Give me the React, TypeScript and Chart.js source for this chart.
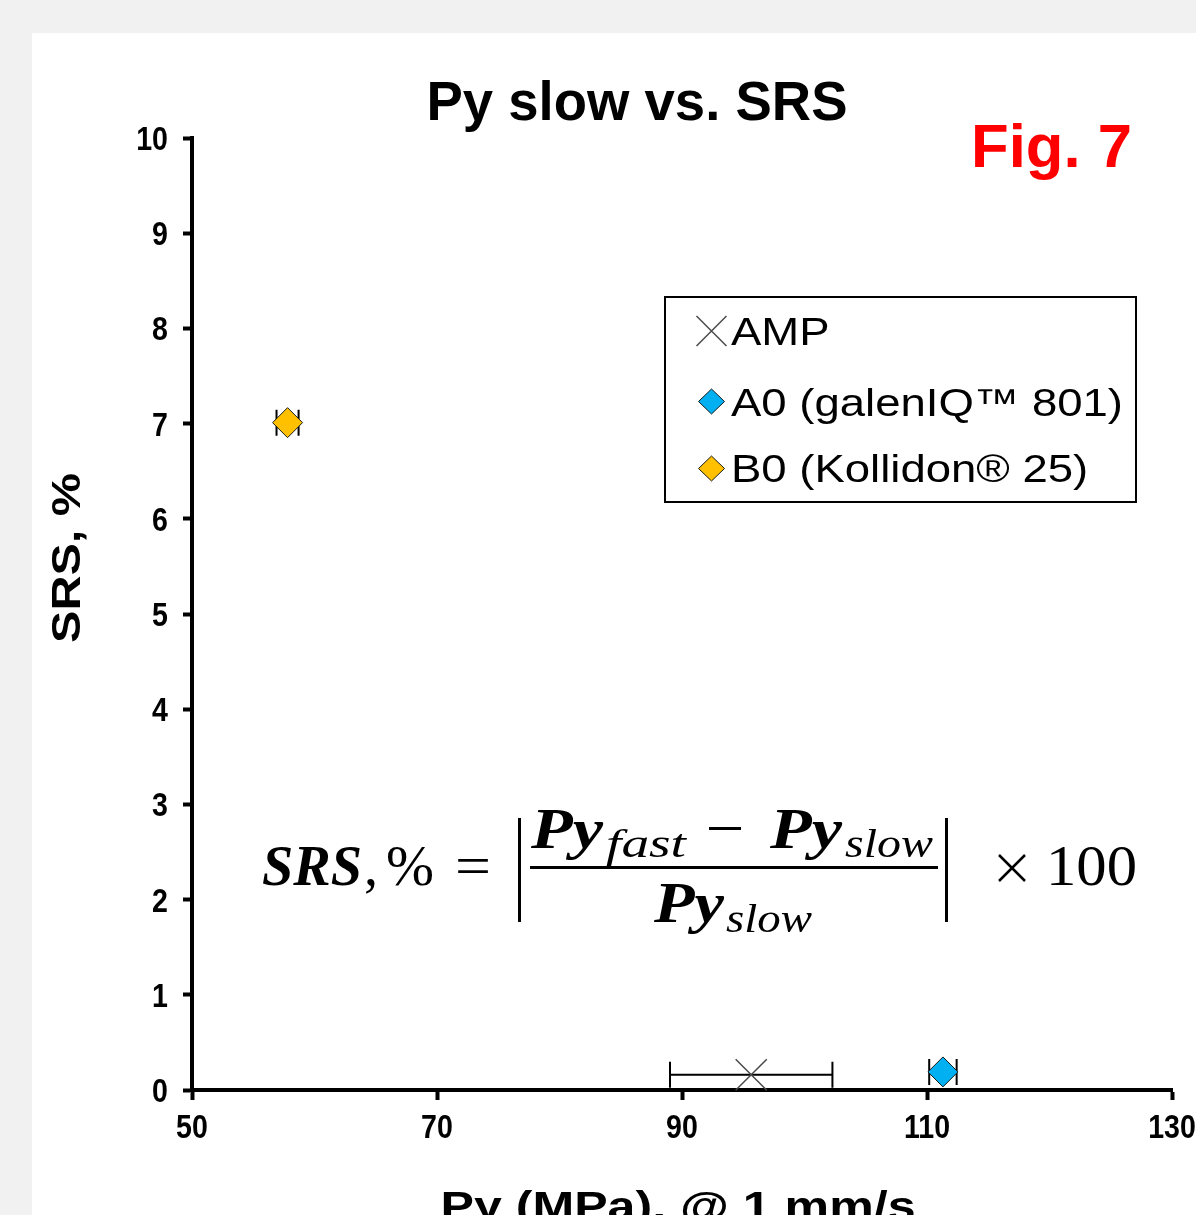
import React, { useEffect, useRef } from 'react';
import { Chart, registerables } from 'chart.js';

Chart.register(...registerables);

// ---------- data ----------
const chartTitle = 'Py slow vs. SRS';
const figLabel = 'Fig. 7';
const xAxisTitle = 'Py (MPa), @ 1 mm/s';
const yAxisTitle = 'SRS, %';
const seriesNames = ['AMP', 'A0 (galenIQ™ 801)', 'B0 (Kollidon® 25)'];
const pySlow = [95.65, 111.3, 57.8];
const srsPercent = [0.16, 0.19, 7.01];
const pyError = [6.63, 1.12, 0.9];
const xTicks = [50, 70, 90, 110, 130];
const yTicks = [0, 1, 2, 3, 4, 5, 6, 7, 8, 9, 10];

// ---------- styles ----------
const CANVAS_W = 1300;
const CANVAS_H = 1300;
const OFF_X = 32;
const OFF_Y = 33;
const SANS = "'Liberation Sans', Arial, sans-serif";
const SERIF = "'Liberation Serif', 'Times New Roman', serif";
const TICK_FONT = `bold 34px ${SANS}`;
const TICK_SCALE = 0.84;

const seriesStyles = [
  { pointStyle: 'crossRot', radius: 22, bg: 'rgba(0,0,0,0)', border: '#4a4a4a', bw: 1.5 },
  { pointStyle: 'rectRot', radius: 15, bg: '#00B0F0', border: '#1a1a1a', bw: 1 },
  { pointStyle: 'rectRot', radius: 15, bg: '#FFC000', border: '#1a1a1a', bw: 1 },
];

// page coords -> canvas coords
const cx = (v: number) => v - OFF_X;
const cy = (v: number) => v - OFF_Y;

function drawFitted(
  ctx: CanvasRenderingContext2D,
  text: string,
  x: number,
  y: number,
  font: string,
  color: string,
  targetWidth?: number,
  align: 'left' | 'center' | 'right' = 'left',
  scaleX?: number
) {
  ctx.save();
  ctx.font = font;
  ctx.fillStyle = color;
  ctx.textBaseline = 'alphabetic';
  const w = ctx.measureText(text).width;
  const sx = scaleX ?? (targetWidth ? targetWidth / w : 1);
  ctx.translate(x, y);
  ctx.scale(sx, 1);
  ctx.textAlign = align;
  ctx.fillText(text, 0, 0);
  ctx.restore();
}

const errorBarPlugin = {
  id: 'errorBars',
  beforeDatasetsDraw(chart: any) {
    const { ctx, scales } = chart;
    const x = scales.x;
    const y = scales.y;
    ctx.save();
    ctx.strokeStyle = '#000';
    ctx.lineWidth = 2;
    pySlow.forEach((v, i) => {
      const xl = x.getPixelForValue(v - pyError[i]);
      const xr = x.getPixelForValue(v + pyError[i]);
      const yp = y.getPixelForValue(srsPercent[i]);
      const cap = 13;
      ctx.beginPath();
      ctx.moveTo(xl, yp);
      ctx.lineTo(xr, yp);
      ctx.moveTo(xl, yp - cap);
      ctx.lineTo(xl, yp + cap);
      ctx.moveTo(xr, yp - cap);
      ctx.lineTo(xr, yp + cap);
      ctx.stroke();
    });
    ctx.restore();
  },
};

const decorPlugin = {
  id: 'decor',
  afterDraw(chart: any) {
    const ctx: CanvasRenderingContext2D = chart.ctx;
    const xs = chart.scales.x;
    const ys = chart.scales.y;

    // tick labels (condensed bold, from the scales)
    yTicks.forEach((v) => {
      const p = ys.getPixelForValue(v);
      drawFitted(ctx, String(v), cx(168), p + 12, TICK_FONT, '#000', undefined, 'right', TICK_SCALE);
    });
    xTicks.forEach((v) => {
      const p = xs.getPixelForValue(v);
      drawFitted(ctx, String(v), p, cy(1138), TICK_FONT, '#000', undefined, 'center', TICK_SCALE);
    });

    // title
    drawFitted(ctx, chartTitle, cx(637), cy(120), `bold 56px ${SANS}`, '#000', 421, 'center');
    // Fig. 7
    drawFitted(ctx, figLabel, cx(971), cy(167), `bold 62px ${SANS}`, '#FF0000', 161);

    // y axis title (rotated)
    ctx.save();
    ctx.translate(cx(80), cy(558));
    ctx.rotate(-Math.PI / 2);
    drawFitted(ctx, yAxisTitle, 0, 0, `bold 40px ${SANS}`, '#000', 170, 'center');
    ctx.restore();

    // x axis title
    drawFitted(ctx, xAxisTitle, cx(678), cy(1220), `bold 40px ${SANS}`, '#000', 475, 'center');

    // legend box
    ctx.save();
    ctx.strokeStyle = '#000';
    ctx.lineWidth = 2;
    ctx.strokeRect(cx(665), cy(297), 471, 205);
    ctx.restore();

    const rowCenters = [331, 401.5, 468.5];
    const rowBaselines = [344.5, 416, 482];
    ctx.save();
    ctx.font = `39px ${SANS}`;
    const longest = Math.max(...seriesNames.map((s) => ctx.measureText(s).width));
    ctx.restore();
    const legendScale = 392 / longest;
    seriesNames.forEach((name, i) => {
      const st = seriesStyles[i];
      const mx = cx(711.5);
      const my = cy(rowCenters[i]);
      ctx.save();
      if (st.pointStyle === 'crossRot') {
        ctx.strokeStyle = st.border;
        ctx.lineWidth = 1.5;
        ctx.beginPath();
        ctx.moveTo(mx - 15, my - 15);
        ctx.lineTo(mx + 15, my + 15);
        ctx.moveTo(mx + 15, my - 15);
        ctx.lineTo(mx - 15, my + 15);
        ctx.stroke();
      } else {
        ctx.fillStyle = st.bg;
        ctx.strokeStyle = st.border;
        ctx.lineWidth = 1;
        ctx.beginPath();
        ctx.moveTo(mx, my - 12.5);
        ctx.lineTo(mx + 13, my);
        ctx.lineTo(mx, my + 12.5);
        ctx.lineTo(mx - 13, my);
        ctx.closePath();
        ctx.fill();
        ctx.stroke();
      }
      ctx.restore();
      ctx.save();
      ctx.font = `39px ${SANS}`;
      ctx.fillStyle = '#000';
      ctx.translate(cx(731), cy(rowBaselines[i]));
      ctx.scale(legendScale, 1);
      ctx.fillText(name, 0, 0);
      ctx.restore();
    });

    // formula
    const bi = `bold italic 56px ${SERIF}`;
    const rg = `56px ${SERIF}`;
    const sub = `italic 40px ${SERIF}`;
    drawFitted(ctx, 'SRS', cx(262), cy(885), bi, '#000', 100);
    drawFitted(ctx, ',', cx(364), cy(885), rg, '#000');
    drawFitted(ctx, '%', cx(386), cy(885), `58px ${SERIF}`, '#000', 48);
    drawFitted(ctx, '=', cx(455), cy(885), rg, '#000', 36);
    // numerator
    drawFitted(ctx, 'Py', cx(531), cy(848), bi, '#000', 72);
    drawFitted(ctx, 'fast', cx(606), cy(857), sub, '#000', 80);
    drawFitted(ctx, 'Py', cx(770), cy(848), bi, '#000', 72);
    drawFitted(ctx, 'slow', cx(845), cy(857), sub, '#000', 88);
    // denominator
    drawFitted(ctx, 'Py', cx(654), cy(922), bi, '#000', 70);
    drawFitted(ctx, 'slow', cx(726), cy(932), sub, '#000', 86);
    // bars, minus sign, times sign
    ctx.save();
    ctx.fillStyle = '#000';
    ctx.fillRect(cx(530), cy(866), 408, 3);
    ctx.fillRect(cx(518), cy(818), 3, 104);
    ctx.fillRect(cx(945), cy(818), 3, 104);
    ctx.fillRect(cx(709), cy(827), 32, 3);
    ctx.strokeStyle = '#000';
    ctx.lineWidth = 2.5;
    ctx.beginPath();
    ctx.moveTo(cx(999), cy(855));
    ctx.lineTo(cx(1025), cy(881));
    ctx.moveTo(cx(1025), cy(855));
    ctx.lineTo(cx(999), cy(881));
    ctx.stroke();
    ctx.restore();
    drawFitted(ctx, '100', cx(1046), cy(885), rg, '#000', 91);
  },
};

export default function App() {
  const canvasRef = useRef<HTMLCanvasElement | null>(null);

  useEffect(() => {
    const canvas = canvasRef.current;
    if (!canvas) return;
    const chart = new Chart(canvas, {
      type: 'scatter',
      data: {
        datasets: seriesNames.map((name, i) => ({
          label: name,
          data: [{ x: pySlow[i], y: srsPercent[i] }],
          pointStyle: seriesStyles[i].pointStyle as any,
          pointRadius: seriesStyles[i].radius,
          pointHoverRadius: seriesStyles[i].radius,
          backgroundColor: seriesStyles[i].bg,
          borderColor: seriesStyles[i].border,
          borderWidth: seriesStyles[i].bw,
        })),
      },
      options: {
        responsive: false,
        animation: false,
        devicePixelRatio: 1,
        clip: false as any,
        layout: { padding: { top: cy(138), right: CANVAS_W - cx(1172), left: 0, bottom: 0 } },
        plugins: {
          legend: { display: false },
          tooltip: { enabled: false },
          title: { display: false },
        },
        scales: {
          x: {
            type: 'linear',
            min: xTicks[0],
            max: xTicks[xTicks.length - 1],
            afterBuildTicks: (scale: any) => {
              scale.ticks = xTicks.map((v) => ({ value: v }));
            },
            afterFit: (scale: any) => {
              scale.height = CANVAS_H - cy(1090);
            },
            ticks: { display: false },
            grid: {
              display: true,
              drawOnChartArea: false,
              drawTicks: true,
              tickLength: 10,
              tickWidth: 4,
              tickColor: '#000',
              color: '#000',
            },
            border: { display: true, color: '#000', width: 4 },
          },
          y: {
            type: 'linear',
            min: yTicks[0],
            max: yTicks[yTicks.length - 1],
            afterBuildTicks: (scale: any) => {
              scale.ticks = yTicks.map((v) => ({ value: v }));
            },
            afterFit: (scale: any) => {
              scale.width = cx(192);
            },
            ticks: { display: false },
            grid: {
              display: true,
              drawOnChartArea: false,
              drawTicks: true,
              tickLength: 9,
              tickWidth: 4,
              tickColor: '#000',
              color: '#000',
            },
            border: { display: true, color: '#000', width: 4 },
          },
        },
      },
      plugins: [errorBarPlugin, decorPlugin],
    });
    return () => chart.destroy();
  }, []);

  return (
    <div
      style={{
        position: 'fixed',
        left: 0,
        top: 0,
        width: '100vw',
        height: '100vh',
        overflow: 'hidden',
        background: '#f1f1f1',
      }}
    >
      <canvas
        ref={canvasRef}
        width={CANVAS_W}
        height={CANVAS_H}
        style={{
          position: 'absolute',
          left: OFF_X,
          top: OFF_Y,
          width: CANVAS_W,
          height: CANVAS_H,
          background: '#ffffff',
          display: 'block',
        }}
      />
    </div>
  );
}
